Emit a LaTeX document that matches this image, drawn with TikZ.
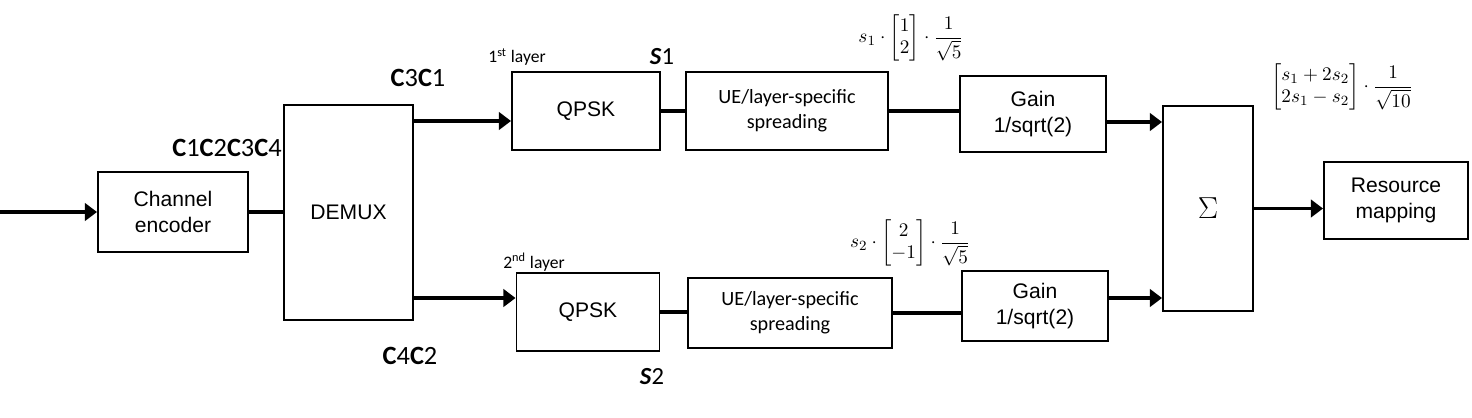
\documentclass[tikz,border=0pt]{standalone}
\usepackage{amsmath,amssymb}
\usepackage{fontspec}
\setmainfont{Liberation Sans}
\newfontfamily\calib{Carlito}
\usetikzlibrary{arrows.meta}
\newcommand{\cw}[1]{{\bfseries C}#1}

\begin{document}
\begin{tikzpicture}[x=0.02cm,y=-0.02cm,
        blk/.style={draw, line width=1.1pt, align=center, inner sep=0pt, font=\fontsize{12}{14.5}\selectfont},
        arr/.style={line width=2pt, -{Triangle[length=7pt,width=10pt]}},
        wire/.style={line width=2pt},
        lbl/.style={inner sep=0pt, font=\calib\fontsize{15}{17}\selectfont},
        eq/.style={inner sep=0pt, font=\fontsize{11}{13}\selectfont}]
    \useasboundingbox (0,0) rectangle (1472,417);

    % blocks
    \node (enc) at (173,212) [blk, minimum width=3cm, minimum height=1.6cm] {Channel\\encoder};
    \node (demux) at (348.5,212.5) [blk, minimum width=2.58cm, minimum height=4.3cm] {DEMUX};
    \node (qpsk1) at (586,111) [blk, minimum width=2.96cm, minimum height=1.56cm] {QPSK};
    \node (ue1) at (787,111) [blk, minimum width=4.04cm, minimum height=1.56cm, font=\calib\fontsize{11.5}{14}\selectfont] {UE/layer-specific\\spreading};
    \node (gain1) at (1033,114) [blk, minimum width=2.92cm, minimum height=1.52cm] {Gain\\1/sqrt(2)};
    \node (qpsk2) at (588,312) [blk, minimum width=2.86cm, minimum height=1.56cm] {QPSK};
    \node (ue2) at (790,313) [blk, minimum width=4.08cm, minimum height=1.4cm, font=\calib\fontsize{11.5}{14}\selectfont] {UE/layer-specific\\spreading};
    \node (gain2) at (1035,306) [blk, minimum width=2.92cm, minimum height=1.4cm] {Gain\\1/sqrt(2)};
    \node (sigma) at (1208,208.5) [blk, minimum width=1.8cm, minimum height=4.1cm, font=\fontsize{19}{20}\selectfont] {$\Sigma$};
    \node (res) at (1396,200.5) [blk, minimum width=2.88cm, minimum height=1.54cm] {Resource\\mapping};

    % labels
    \node (cw) at (227,148) [lbl] {\cw1\cw2\cw3\cw4};
    \node (cw31) at (418,78) [lbl] {\cw3\cw1};
    \node (cw42) at (410,356) [lbl] {\cw4\cw2};
    \node (lay1) at (517,57) [inner sep=0pt, font=\calib\fontsize{10}{12}\selectfont] {1\textsuperscript{st} layer};
    \node (lay2) at (534,262) [inner sep=0pt, font=\calib\fontsize{10}{12}\selectfont] {2\textsuperscript{nd} layer};
    \node (sym1) at (662,57) [lbl, font=\calib\fontsize{14}{16}\selectfont] {\textbf{\textit{S}}1};
    \node (sym2) at (652,377) [lbl, font=\calib\fontsize{14}{16}\selectfont] {\textbf{\textit{S}}2};
    \node (f1) at (911,38) [eq] {$s_1\cdot\begin{bmatrix}1\\2\end{bmatrix}\cdot\dfrac{1}{\sqrt{5}}$};
    \node (f2) at (910,243) [eq] {$s_2\cdot\begin{bmatrix}2\\-1\end{bmatrix}\cdot\dfrac{1}{\sqrt{5}}$};
    \node (fsum) at (1342,87) [eq] {$\begin{bmatrix}s_1+2s_2\\2s_1-s_2\end{bmatrix}\cdot\dfrac{1}{\sqrt{10}}$};

    % connectors
    \coordinate (in) at (0,212);
    \coordinate (d1) at ([yshift=-0.2cm]qpsk1.west);
    \coordinate (d2) at ([yshift=0.28cm]qpsk2.west);
    \coordinate (g1) at ([yshift=-0.16cm]gain1.east);
    \coordinate (g2) at ([yshift=0.16cm]gain2.east);
    \draw[arr] (in) -- (enc.west); \draw[wire] (enc.east) -- (enc.east -| demux.west);
    \draw[arr] (demux.east |- d1) -- (d1); \draw[arr] (demux.east |- d2) -- (d2);
    \draw[wire] (qpsk1.east) -- (qpsk1.east -| ue1.west); \draw[wire] (ue1.east) -- (ue1.east -| gain1.west);
    \draw[wire] (qpsk2.east) -- (qpsk2.east -| ue2.west); \draw[wire] (ue2.east) -- (ue2.east -| gain2.west);
    \draw[arr] (g1) -- (g1 -| sigma.west); \draw[arr] (g2) -- (g2 -| sigma.west);
    \draw[arr] (sigma.east) -- (sigma.east -| res.west);
\end{tikzpicture}
\end{document}
